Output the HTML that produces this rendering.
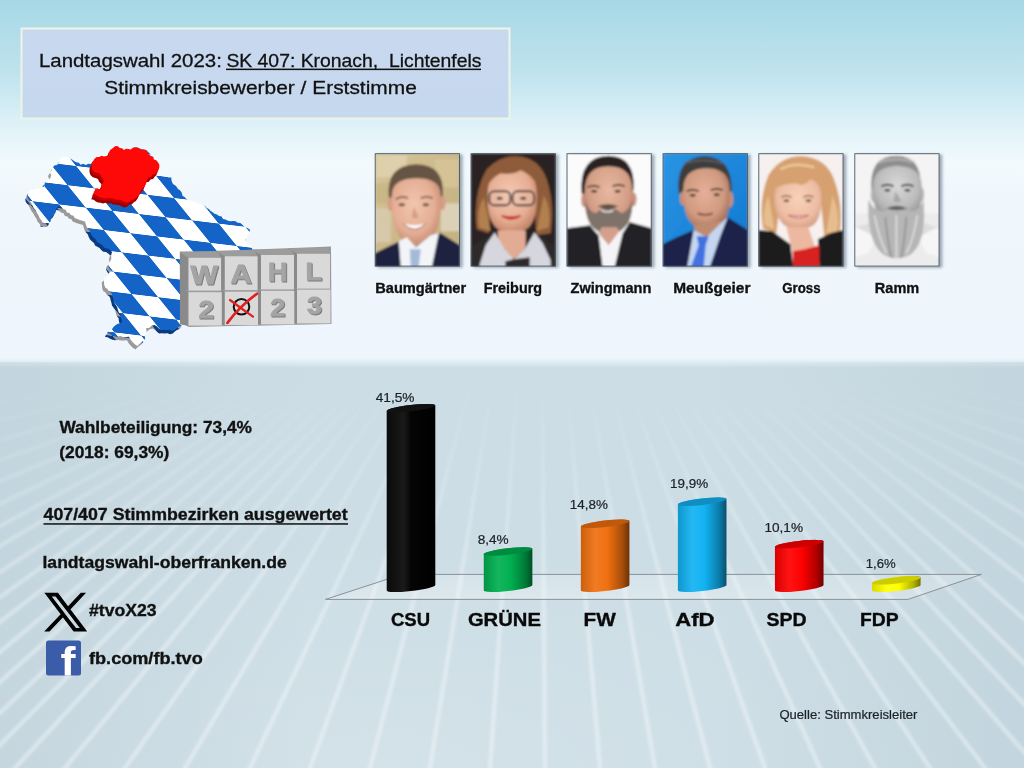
<!DOCTYPE html>
<html><head><meta charset="utf-8"><title>Landtagswahl 2023 SK 407</title>
<style>html,body{margin:0;padding:0;background:#cddde5;}svg{display:block;}text{font-family:"Liberation Sans",Arial,sans-serif;white-space:pre;}</style></head>
<body>
<svg width="1024" height="768" viewBox="0 0 1024 768">
<defs>
<linearGradient id="sky" x1="0" y1="0" x2="0" y2="1">
<stop offset="0" stop-color="#a6d8e6"/><stop offset="0.2" stop-color="#bfe3ee"/><stop offset="0.36" stop-color="#e2f3f9"/><stop offset="0.45" stop-color="#f2fafd"/><stop offset="0.6" stop-color="#eff6fc"/><stop offset="1" stop-color="#eef5fc"/>
</linearGradient>
<linearGradient id="hz" x1="0" y1="0" x2="0" y2="1"><stop offset="0" stop-color="#eef6fc"/><stop offset="1" stop-color="#ccdde5"/></linearGradient>
<radialGradient id="glow" cx="0.38" cy="1.0" r="0.6"><stop offset="0" stop-color="#ffffff" stop-opacity="0.15"/><stop offset="1" stop-color="#ffffff" stop-opacity="0"/></radialGradient>
<linearGradient id="edge" x1="0" x2="1" y1="0" y2="0"><stop offset="0" stop-color="#a8bcc8" stop-opacity="0.25"/><stop offset="0.3" stop-color="#a8bcc8" stop-opacity="0"/><stop offset="0.7" stop-color="#a8bcc8" stop-opacity="0"/><stop offset="1" stop-color="#a8bcc8" stop-opacity="0.25"/></linearGradient>
<linearGradient id="lfade" x1="0" y1="0" x2="0" y2="1"><stop offset="0" stop-color="#fff" stop-opacity="0"/><stop offset="0.09" stop-color="#fff" stop-opacity="0.1"/><stop offset="0.29" stop-color="#fff" stop-opacity="0.45"/><stop offset="0.49" stop-color="#fff" stop-opacity="0.8"/><stop offset="0.7" stop-color="#fff" stop-opacity="1"/></linearGradient>
<mask id="lmask"><rect x="0" y="362" width="1024" height="406" fill="url(#lfade)"/></mask>
<filter id="lblur" x="-5%" y="-5%" width="110%" height="110%"><feGaussianBlur stdDeviation="1.7"/></filter>
<linearGradient id="floorfill" x1="0" y1="0" x2="0" y2="1"><stop offset="0" stop-color="#ffffff" stop-opacity="0.18"/><stop offset="1" stop-color="#ffffff" stop-opacity="0.28"/></linearGradient>
<linearGradient id="title" x1="0" y1="0" x2="0" y2="1"><stop offset="0" stop-color="#c8d9ef"/><stop offset="1" stop-color="#c6d8ee"/></linearGradient>
<linearGradient id="bg0" x1="0" x2="1" y1="0" y2="0"><stop offset="0" stop-color="#0a0a0a"/><stop offset="0.35" stop-color="#1a1a1a"/><stop offset="0.5" stop-color="#050505"/><stop offset="1" stop-color="#000"/></linearGradient>
<linearGradient id="bg1" x1="0" x2="1" y1="0" y2="0"><stop offset="0" stop-color="#009544"/><stop offset="0.3" stop-color="#14b65e"/><stop offset="0.55" stop-color="#00b050"/><stop offset="0.85" stop-color="#007b38"/><stop offset="1" stop-color="#004f24"/></linearGradient>
<linearGradient id="bg2" x1="0" x2="1" y1="0" y2="0"><stop offset="0" stop-color="#cc5f0d"/><stop offset="0.3" stop-color="#f17b23"/><stop offset="0.55" stop-color="#f07010"/><stop offset="0.85" stop-color="#a84e0b"/><stop offset="1" stop-color="#6c3207"/></linearGradient>
<linearGradient id="bg3" x1="0" x2="1" y1="0" y2="0"><stop offset="0" stop-color="#0f97cd"/><stop offset="0.3" stop-color="#24b8f3"/><stop offset="0.55" stop-color="#12b2f2"/><stop offset="0.85" stop-color="#0c7ca9"/><stop offset="1" stop-color="#08506c"/></linearGradient>
<linearGradient id="bg4" x1="0" x2="1" y1="0" y2="0"><stop offset="0" stop-color="#d80000"/><stop offset="0.3" stop-color="#ff1414"/><stop offset="0.55" stop-color="#ff0000"/><stop offset="0.85" stop-color="#b20000"/><stop offset="1" stop-color="#720000"/></linearGradient>
<linearGradient id="bg5" x1="0" x2="1" y1="0" y2="0"><stop offset="0" stop-color="#d8d800"/><stop offset="0.3" stop-color="#ffff14"/><stop offset="0.55" stop-color="#ffff00"/><stop offset="0.85" stop-color="#b2b200"/><stop offset="1" stop-color="#727200"/></linearGradient>
<pattern id="loz" patternUnits="userSpaceOnUse" width="2" height="2" patternTransform="matrix(26.6 3.2 18.1 22.4 138.9 214)"><rect width="2" height="2" fill="#ffffff"/><rect width="1" height="1" fill="#1464c8"/><rect x="1" y="1" width="1" height="1" fill="#1464c8"/></pattern>
<pattern id="lozd" patternUnits="userSpaceOnUse" width="2" height="2" patternTransform="matrix(26.6 3.2 18.1 22.4 136.9 217.5)"><rect width="2" height="2" fill="#9a9a9a"/><rect width="1" height="1" fill="#0a3a80"/><rect x="1" y="1" width="1" height="1" fill="#0a3a80"/></pattern>
<clipPath id="pc"><rect x="0" y="0" width="85.1" height="113.2"/></clipPath>
<filter id="soft" x="-5%" y="-5%" width="110%" height="110%"><feGaussianBlur stdDeviation="0.8"/></filter>
<filter id="psh" x="-10%" y="-10%" width="130%" height="130%"><feGaussianBlur stdDeviation="1.5"/></filter>
<radialGradient id="sk1" cx="0.45" cy="0.4" r="0.6"><stop offset="0" stop-color="#f2c6ae"/><stop offset="0.7" stop-color="#e4ae94"/><stop offset="1" stop-color="#c88e74"/></radialGradient>
<radialGradient id="sk2" cx="0.45" cy="0.4" r="0.6"><stop offset="0" stop-color="#f4c8b0"/><stop offset="0.7" stop-color="#e6ae94"/><stop offset="1" stop-color="#c88a70"/></radialGradient>
<radialGradient id="sk3" cx="0.5" cy="0.35" r="0.6"><stop offset="0" stop-color="#e8b8a0"/><stop offset="0.7" stop-color="#d49e86"/><stop offset="1" stop-color="#b07a64"/></radialGradient>
<radialGradient id="sk4" cx="0.45" cy="0.4" r="0.6"><stop offset="0" stop-color="#e6b098"/><stop offset="0.7" stop-color="#d09a80"/><stop offset="1" stop-color="#a87460"/></radialGradient>
<radialGradient id="sk5" cx="0.5" cy="0.4" r="0.6"><stop offset="0" stop-color="#f8d2b8"/><stop offset="0.7" stop-color="#eebea4"/><stop offset="1" stop-color="#d6a088"/></radialGradient>
<radialGradient id="sk6" cx="0.5" cy="0.35" r="0.6"><stop offset="0" stop-color="#d8d8d8"/><stop offset="0.7" stop-color="#bcbcbc"/><stop offset="1" stop-color="#9a9a9a"/></radialGradient>
<linearGradient id="stone" x1="0" y1="0" x2="1" y2="1"><stop offset="0" stop-color="#d6c69a"/><stop offset="0.5" stop-color="#cbb889"/><stop offset="1" stop-color="#c2b07e"/></linearGradient>
<linearGradient id="blu4" x1="0" y1="0" x2="1" y2="1"><stop offset="0" stop-color="#2a94e4"/><stop offset="1" stop-color="#1178d0"/></linearGradient>
</defs>
<rect width="1024" height="364" fill="url(#sky)"/>
<rect y="358" width="1024" height="10" fill="url(#hz)"/>
<rect y="368" width="1024" height="400" fill="#ccdde5"/>
<rect y="362" width="1024" height="406" fill="url(#glow)"/>
<rect y="362" width="1024" height="406" fill="url(#edge)"/>
<g mask="url(#lmask)"><g stroke="#f4f9fc" stroke-width="4.2" opacity="0.48" filter="url(#lblur)">
<line x1="380.0" y1="362" x2="-550.7" y2="1300"/>
<line x1="368.5" y1="362" x2="-616.3" y2="1300"/>
<line x1="357.4" y1="362" x2="-690.2" y2="1300"/>
<line x1="346.6" y1="362" x2="-774.5" y2="1300"/>
<line x1="335.8" y1="362" x2="-875.7" y2="1300"/>
<line x1="326.9" y1="362" x2="-977.8" y2="1300"/>
<line x1="317.9" y1="362" x2="-1102.0" y2="1300"/>
<line x1="308.5" y1="362" x2="-1264.3" y2="1300"/>
<line x1="301.4" y1="362" x2="-1422.2" y2="1300"/>
<line x1="293.5" y1="362" x2="-1645.0" y2="1300"/>
<line x1="285.2" y1="362" x2="-1962.8" y2="1300"/>
<line x1="277.7" y1="362" x2="-2379.9" y2="1300"/>
<line x1="270.5" y1="362" x2="-2982.1" y2="1300"/>
<line x1="263.3" y1="362" x2="-3994.7" y2="1300"/>
<line x1="256.8" y1="362" x2="-5765.7" y2="1300"/>
<line x1="389.1" y1="362" x2="-475.2" y2="1300"/>
<line x1="399.1" y1="362" x2="-372.8" y2="1300"/>
<line x1="411.8" y1="362" x2="-250.8" y2="1300"/>
<line x1="425.4" y1="362" x2="-130.0" y2="1300"/>
<line x1="441.4" y1="362" x2="-0.8" y2="1300"/>
<line x1="457.7" y1="362" x2="116.5" y2="1300"/>
<line x1="475.7" y1="362" x2="231.4" y2="1300"/>
<line x1="495.9" y1="362" x2="343.6" y2="1300"/>
<line x1="518.7" y1="362" x2="452.4" y2="1300"/>
<line x1="542.2" y1="362" x2="548.6" y2="1300"/>
<line x1="565.3" y1="362" x2="645.5" y2="1300"/>
<line x1="585.8" y1="362" x2="745.6" y2="1300"/>
<line x1="604.3" y1="362" x2="848.6" y2="1300"/>
<line x1="620.9" y1="362" x2="953.9" y2="1300"/>
<line x1="636.0" y1="362" x2="1061.1" y2="1300"/>
<line x1="649.9" y1="362" x2="1170.0" y2="1300"/>
<line x1="662.7" y1="362" x2="1280.3" y2="1300"/>
<line x1="674.7" y1="362" x2="1391.6" y2="1300"/>
<line x1="685.0" y1="362" x2="1500.3" y2="1300"/>
<line x1="702.6" y1="362" x2="1584.2" y2="1300"/>
<line x1="717.6" y1="362" x2="1672.5" y2="1300"/>
<line x1="733.7" y1="362" x2="1793.3" y2="1300"/>
<line x1="747.9" y1="362" x2="1935.8" y2="1300"/>
<line x1="760.7" y1="362" x2="2110.2" y2="1300"/>
<line x1="771.7" y1="362" x2="2318.4" y2="1300"/>
<line x1="781.6" y1="362" x2="2586.2" y2="1300"/>
<line x1="790.4" y1="362" x2="2938.9" y2="1300"/>
<line x1="798.4" y1="362" x2="3443.4" y2="1300"/>
<line x1="805.7" y1="362" x2="4218.0" y2="1300"/>
<line x1="812.3" y1="362" x2="5539.9" y2="1300"/>
</g></g>
<rect x="21.5" y="28.5" width="488" height="90" fill="url(#title)" stroke="#eef4e6" stroke-width="2"/>
<polygon points="59.7,161.1 62.6,160.3 65.5,160.5 67.6,161.9 70.0,162.9 72.0,164.5 74.1,165.8 76.8,166.2 78.6,168.2 81.1,167.2 83.8,168.5 86.4,167.2 89.0,167.5 90.6,164.9 93.6,163.4 94.8,160.5 97.7,160.2 100.8,160.6 103.6,159.7 106.6,159.5 107.7,156.6 108.3,153.5 110.5,151.0 113.4,149.5 116.1,151.1 118.8,152.8 121.9,153.5 124.6,153.1 127.4,153.0 130.1,152.4 132.6,150.8 135.4,151.1 138.1,152.3 141.0,152.9 143.9,153.5 145.9,155.3 147.9,157.0 149.0,159.5 150.8,162.0 153.5,163.5 155.7,165.5 156.2,168.1 157.4,170.5 155.4,172.5 154.3,175.0 153.2,177.5 155.7,178.8 158.6,178.4 161.1,179.7 164.0,179.6 166.5,181.0 169.3,180.8 169.5,184.3 171.0,187.5 174.0,189.5 176.0,192.5 178.2,194.1 179.8,196.3 180.5,199.2 182.9,200.7 184.5,202.8 186.7,203.9 189.3,204.1 191.5,205.3 193.9,206.0 196.2,206.7 198.4,208.0 200.7,208.8 203.1,209.5 204.7,211.5 206.9,212.6 208.6,214.4 210.7,215.7 212.5,217.3 215.0,218.0 217.0,219.5 219.6,220.0 221.0,222.4 223.5,223.1 225.9,224.3 228.4,224.7 231.1,224.5 233.6,224.8 235.7,226.3 238.4,226.6 240.4,228.2 242.6,230.4 245.4,231.6 248.0,233.2 247.2,235.8 246.1,238.6 245.1,241.3 243.0,243.5 244.5,245.9 246.3,248.0 248.9,249.3 250.2,252.3 250.0,255.5 249.5,257.9 250.2,260.3 250.6,262.7 250.4,265.1 249.5,267.5 249.3,269.9 250.8,272.3 249.8,274.7 250.8,277.1 249.6,279.5 250.3,281.9 249.3,284.3 249.1,286.7 250.0,289.1 249.1,291.5 250.3,293.9 250.8,296.3 249.8,298.7 250.8,301.1 250.0,303.5 247.8,304.7 245.4,305.0 243.0,305.4 240.9,306.9 238.7,307.7 235.9,307.0 233.9,308.6 231.3,308.2 229.0,309.0 227.0,310.6 224.6,311.2 222.3,311.7 219.9,312.2 217.6,313.0 215.3,313.7 213.0,314.3 210.5,314.5 208.4,315.9 206.1,316.7 203.7,316.9 201.6,318.4 199.3,319.0 196.6,318.5 194.5,320.0 192.2,320.7 190.2,322.3 187.7,322.3 185.3,322.7 183.0,323.5 181.2,326.7 179.6,329.1 176.9,329.9 174.8,331.6 172.8,333.5 170.1,334.3 167.4,333.3 164.6,333.6 161.9,333.2 159.2,333.5 156.8,332.0 155.0,329.9 152.5,328.5 149.5,329.2 147.1,331.5 144.0,331.8 144.6,334.4 143.3,336.9 142.6,339.4 143.2,342.0 141.6,344.2 139.4,345.8 137.3,347.5 135.5,349.5 132.8,347.7 130.5,345.4 128.5,343.0 127.0,340.3 124.0,340.6 121.1,340.5 118.2,340.1 115.2,340.3 112.5,339.8 110.0,338.8 107.7,337.3 105.0,336.9 106.1,334.6 108.5,333.6 110.5,332.1 111.9,330.1 113.8,328.6 115.8,327.2 118.5,326.8 120.3,325.1 119.0,321.8 118.6,318.3 116.8,316.0 115.9,313.3 115.1,310.5 113.5,308.1 112.0,305.8 111.5,303.1 110.7,300.6 110.2,298.0 108.9,295.9 106.7,294.7 105.6,292.4 103.4,291.2 102.2,288.4 102.0,285.5 101.7,282.5 103.8,280.6 106.0,278.9 107.3,276.3 109.3,274.3 107.2,272.0 106.0,269.2 106.5,266.7 108.2,264.8 109.3,262.5 109.1,258.9 110.0,255.5 108.2,253.6 106.1,252.1 103.3,251.7 101.2,250.1 99.6,247.9 97.3,246.7 95.0,245.5 94.0,243.0 91.8,241.3 90.0,239.4 88.7,237.0 87.9,234.4 86.0,232.5 84.6,230.2 83.7,227.6 83.0,225.0 80.4,224.3 77.8,223.4 75.2,222.5 72.7,221.5 71.5,219.3 68.8,218.6 67.5,216.5 64.9,215.9 63.6,213.2 61.0,212.5 59.0,210.6 56.4,209.9 54.3,212.1 53.9,215.2 52.5,217.7 50.4,219.6 48.9,221.9 48.6,224.9 46.7,226.9 43.8,226.5 40.8,226.9 39.7,223.9 37.5,221.5 36.5,218.8 34.9,216.4 33.6,213.8 31.7,211.4 30.3,208.7 29.0,206.0 27.3,204.1 25.8,202.1 25.2,199.5 26.3,197.0 27.0,194.3 29.3,193.3 31.9,193.5 34.0,191.6 36.8,192.4 39.1,191.4 41.4,190.4 42.8,188.0 42.7,185.2 46.0,183.8 48.6,181.3 49.0,178.6 48.0,176.1 49.4,173.9 50.6,171.5 52.2,169.1 55.1,168.4 57.0,166.3 57.8,163.4" fill="url(#lozd)"/>
<polygon points="61.7,157.6 64.6,156.8 67.5,157.0 69.6,158.4 72.0,159.4 74.0,161.0 76.1,162.3 78.8,162.7 80.6,164.7 83.1,163.7 85.8,165.0 88.4,163.7 91.0,164.0 92.6,161.4 95.6,159.9 96.8,157.0 99.7,156.7 102.8,157.1 105.6,156.2 108.6,156.0 109.7,153.1 110.3,150.0 112.5,147.5 115.4,146.0 118.1,147.6 120.8,149.3 123.9,150.0 126.6,149.6 129.4,149.5 132.1,148.9 134.6,147.3 137.4,147.6 140.1,148.8 143.0,149.4 145.9,150.0 147.9,151.8 149.9,153.5 151.0,156.0 152.8,158.5 155.5,160.0 157.7,162.0 158.2,164.6 159.4,167.0 157.4,169.0 156.3,171.5 155.2,174.0 157.7,175.3 160.6,174.9 163.1,176.2 166.0,176.1 168.5,177.5 171.3,177.3 171.5,180.8 173.0,184.0 176.0,186.0 178.0,189.0 180.2,190.6 181.8,192.8 182.5,195.7 184.9,197.2 186.5,199.3 188.7,200.4 191.3,200.6 193.5,201.8 195.9,202.5 198.2,203.2 200.4,204.5 202.7,205.3 205.1,206.0 206.7,208.0 208.9,209.1 210.6,210.9 212.7,212.2 214.5,213.8 217.0,214.5 219.0,216.0 221.6,216.5 223.0,218.9 225.5,219.6 227.9,220.8 230.4,221.2 233.1,221.0 235.6,221.3 237.7,222.8 240.4,223.1 242.4,224.7 244.6,226.9 247.4,228.1 250.0,229.7 249.2,232.3 248.1,235.1 247.1,237.8 245.0,240.0 246.5,242.4 248.3,244.5 250.9,245.8 252.2,248.8 252.0,252.0 251.5,254.4 252.2,256.8 252.6,259.2 252.4,261.6 251.5,264.0 251.3,266.4 252.8,268.8 251.8,271.2 252.8,273.6 251.6,276.0 252.3,278.4 251.3,280.8 251.1,283.2 252.0,285.6 251.1,288.0 252.3,290.4 252.8,292.8 251.8,295.2 252.8,297.6 252.0,300.0 249.8,301.2 247.4,301.5 245.0,301.9 242.9,303.4 240.7,304.2 237.9,303.5 235.9,305.1 233.3,304.7 231.0,305.5 229.0,307.1 226.6,307.7 224.3,308.2 221.9,308.7 219.6,309.5 217.3,310.2 215.0,310.8 212.5,311.0 210.4,312.4 208.1,313.2 205.7,313.4 203.6,314.9 201.3,315.5 198.6,315.0 196.5,316.5 194.2,317.2 192.2,318.8 189.7,318.8 187.3,319.2 185.0,320.0 183.2,323.2 181.6,325.6 178.9,326.4 176.8,328.1 174.8,330.0 172.1,330.8 169.4,329.8 166.6,330.1 163.9,329.7 161.2,330.0 158.8,328.5 157.0,326.4 154.5,325.0 151.5,325.7 149.1,328.0 146.0,328.3 146.6,330.9 145.3,333.4 144.6,335.9 145.2,338.5 143.6,340.7 141.4,342.3 139.3,344.0 137.5,346.0 134.8,344.2 132.5,341.9 130.5,339.5 129.0,336.8 126.0,337.1 123.1,337.0 120.2,336.6 117.2,336.8 114.5,336.3 112.0,335.3 109.7,333.8 107.0,333.4 108.1,331.1 110.5,330.1 112.5,328.6 113.9,326.6 115.8,325.1 117.8,323.7 120.5,323.3 122.3,321.6 121.0,318.3 120.6,314.8 118.8,312.5 117.9,309.8 117.1,307.0 115.5,304.6 114.0,302.3 113.5,299.6 112.7,297.1 112.2,294.5 110.9,292.4 108.7,291.2 107.6,288.9 105.4,287.7 104.2,284.9 104.0,282.0 103.7,279.0 105.8,277.1 108.0,275.4 109.3,272.8 111.3,270.8 109.2,268.5 108.0,265.7 108.5,263.2 110.2,261.3 111.3,259.0 111.1,255.4 112.0,252.0 110.2,250.1 108.1,248.6 105.3,248.2 103.2,246.6 101.6,244.4 99.3,243.2 97.0,242.0 96.0,239.5 93.8,237.8 92.0,235.9 90.7,233.5 89.9,230.9 88.0,229.0 86.6,226.7 85.7,224.1 85.0,221.5 82.4,220.8 79.8,219.9 77.2,219.0 74.7,218.0 73.5,215.8 70.8,215.1 69.5,213.0 66.9,212.4 65.6,209.7 63.0,209.0 61.0,207.1 58.4,206.4 56.3,208.6 55.9,211.7 54.5,214.2 52.4,216.1 50.9,218.4 50.6,221.4 48.7,223.4 45.8,223.0 42.8,223.4 41.7,220.4 39.5,218.0 38.5,215.3 36.9,212.9 35.6,210.3 33.7,207.9 32.3,205.2 31.0,202.5 29.3,200.6 27.8,198.6 27.2,196.0 28.3,193.5 29.0,190.8 31.3,189.8 33.9,190.0 36.0,188.1 38.8,188.9 41.1,187.9 43.4,186.9 44.8,184.5 44.7,181.7 48.0,180.3 50.6,177.8 51.0,175.1 50.0,172.6 51.4,170.4 52.6,168.0 54.2,165.6 57.1,164.9 59.0,162.8 59.8,159.9" fill="url(#loz)"/>
<polygon points="89.5,168.7 90.9,166.3 92.3,163.8 94.6,162.0 97.0,162.1 99.2,160.7 101.7,161.5 104.0,160.9 106.4,161.0 106.4,157.8 108.1,155.0 110.7,153.0 113.2,151.0 115.7,151.2 117.5,152.9 119.9,153.2 121.7,155.0 123.8,153.8 126.2,154.1 128.6,154.4 130.6,152.7 132.9,152.5 135.2,152.6 137.3,153.4 139.2,154.7 141.5,154.5 143.7,155.0 145.6,156.9 146.4,159.6 148.8,161.0 151.1,161.8 151.7,164.5 154.1,165.2 155.5,167.0 157.0,169.3 157.2,172.0 156.5,174.7 154.7,176.8 153.0,178.9 150.5,179.5 148.8,181.7 146.2,182.3 145.2,184.5 144.3,186.7 143.7,189.0 142.2,191.4 140.2,193.5 138.6,195.8 137.6,198.6 135.9,200.9 133.5,202.6 131.7,204.4 129.1,204.8 127.3,206.5 125.1,207.6 122.7,207.1 120.6,205.7 118.3,205.0 115.7,204.7 113.1,204.6 110.7,203.2 108.1,203.4 105.6,202.8 103.0,203.5 100.5,202.7 98.0,202.6 95.8,201.4 93.8,199.7 91.2,199.2 92.4,196.7 92.8,194.0 95.1,193.3 97.5,194.5 99.7,193.3 99.3,190.8 100.3,188.6 101.4,186.4 101.3,184.0 99.1,181.8 98.0,178.9 95.4,178.1 92.8,177.2 90.4,175.1 89.5,172.0" fill="#9a0000"/>
<polygon points="90.6,166.2 92.0,163.8 93.4,161.3 95.7,159.5 98.1,159.6 100.3,158.2 102.8,159.0 105.1,158.4 107.5,158.5 107.5,155.3 109.2,152.5 111.8,150.5 114.3,148.5 116.8,148.7 118.6,150.4 121.0,150.7 122.8,152.5 124.9,151.3 127.3,151.6 129.7,151.9 131.7,150.2 134.0,150.0 136.3,150.1 138.4,150.9 140.3,152.2 142.6,152.0 144.8,152.5 146.7,154.4 147.5,157.1 149.9,158.5 152.2,159.3 152.8,162.0 155.2,162.7 156.6,164.5 158.1,166.8 158.3,169.5 157.6,172.2 155.8,174.3 154.1,176.4 151.6,177.0 149.9,179.2 147.3,179.8 146.3,182.0 145.4,184.2 144.8,186.5 143.3,188.9 141.3,191.0 139.7,193.3 138.7,196.1 137.0,198.4 134.6,200.1 132.8,201.9 130.2,202.3 128.4,204.0 126.2,205.1 123.8,204.6 121.7,203.2 119.4,202.5 116.8,202.2 114.2,202.1 111.8,200.7 109.2,200.9 106.7,200.3 104.1,201.0 101.6,200.2 99.1,200.1 96.9,198.9 94.9,197.2 92.3,196.7 93.5,194.2 93.9,191.5 96.2,190.8 98.6,192.0 100.8,190.8 100.4,188.3 101.4,186.1 102.5,183.9 102.4,181.5 100.2,179.3 99.1,176.4 96.5,175.6 93.9,174.7 91.5,172.6 90.6,169.5" fill="#c00000"/>
<polygon points="91.7,163.7 93.1,161.3 94.5,158.8 96.8,157.0 99.2,157.1 101.4,155.7 103.9,156.5 106.2,155.9 108.6,156.0 108.6,152.8 110.3,150.0 112.9,148.0 115.4,146.0 117.9,146.2 119.7,147.9 122.1,148.2 123.9,150.0 126.0,148.8 128.4,149.1 130.8,149.4 132.8,147.7 135.1,147.5 137.4,147.6 139.5,148.4 141.4,149.7 143.7,149.5 145.9,150.0 147.8,151.9 148.6,154.6 151.0,156.0 153.3,156.8 153.9,159.5 156.3,160.2 157.7,162.0 159.2,164.3 159.4,167.0 158.7,169.7 156.9,171.8 155.2,173.9 152.7,174.5 151.0,176.7 148.4,177.3 147.4,179.5 146.5,181.7 145.9,184.0 144.4,186.4 142.4,188.5 140.8,190.8 139.8,193.6 138.1,195.9 135.7,197.6 133.9,199.4 131.3,199.8 129.5,201.5 127.3,202.6 124.9,202.1 122.8,200.7 120.5,200.0 117.9,199.7 115.3,199.6 112.9,198.2 110.3,198.4 107.8,197.8 105.2,198.5 102.7,197.7 100.2,197.6 98.0,196.4 96.0,194.7 93.4,194.2 94.6,191.7 95.0,189.0 97.3,188.3 99.7,189.5 101.9,188.3 101.5,185.8 102.5,183.6 103.6,181.4 103.5,179.0 101.3,176.8 100.2,173.9 97.6,173.1 95.0,172.2 92.6,170.1 91.7,167.0" fill="#ff0808"/>
<polygon points="179.8,251.5 216,251 331,246.5 331.5,324 189,327 180,323" fill="#9a9a9a"/>
<polygon points="297.0,289.6 288.5,284.1 288.5,322.3 297.0,323.4" fill="#8a8a8a"/>
<polygon points="297.0,289.6 330.5,289.6 327.5,284.1 288.5,284.1" fill="#9c9c9c"/>
<rect x="297" y="289.6" width="33.5" height="33.8" fill="#d9d9d9"/>
<polygon points="261.0,290.8 252.5,285.3 252.5,323.3 261.0,324.4" fill="#8a8a8a"/>
<polygon points="261.0,290.8 294.3,290.8 291.3,285.3 252.5,285.3" fill="#9c9c9c"/>
<rect x="261" y="290.8" width="33.3" height="33.6" fill="#d9d9d9"/>
<polygon points="224.8,291.7 216.3,286.2 216.3,323.9 224.8,325.0" fill="#8a8a8a"/>
<polygon points="224.8,291.7 258.0,291.7 255.0,286.2 216.3,286.2" fill="#9c9c9c"/>
<rect x="224.8" y="291.7" width="33.2" height="33.3" fill="#d9d9d9"/>
<polygon points="188.5,292.2 180.0,286.7 180.0,324.5 188.5,325.6" fill="#8a8a8a"/>
<polygon points="188.5,292.2 221.8,292.2 218.8,286.7 180.0,286.7" fill="#9c9c9c"/>
<rect x="188.5" y="292.2" width="33.3" height="33.4" fill="#d9d9d9"/>
<polygon points="297.0,253.8 288.5,248.3 288.5,287.5 297.0,288.6" fill="#8a8a8a"/>
<polygon points="297.0,253.8 330.0,253.8 327.0,248.3 288.5,248.3" fill="#9c9c9c"/>
<rect x="297" y="253.8" width="33.0" height="34.8" fill="#d9d9d9"/>
<polygon points="261.0,255.0 252.5,249.5 252.5,288.3 261.0,289.4" fill="#8a8a8a"/>
<polygon points="261.0,255.0 294.0,255.0 291.0,249.5 252.5,249.5" fill="#9c9c9c"/>
<rect x="261" y="255" width="33.0" height="34.4" fill="#d9d9d9"/>
<polygon points="224.8,256.3 216.3,250.8 216.3,289.0 224.8,290.1" fill="#8a8a8a"/>
<polygon points="224.8,256.3 257.6,256.3 254.6,250.8 216.3,250.8" fill="#9c9c9c"/>
<rect x="224.8" y="256.3" width="32.8" height="33.8" fill="#d9d9d9"/>
<polygon points="188.5,257.8 180.0,252.3 180.0,289.5 188.5,290.6" fill="#8a8a8a"/>
<polygon points="188.5,257.8 221.1,257.8 218.1,252.3 180.0,252.3" fill="#9c9c9c"/>
<rect x="188.5" y="257.8" width="32.6" height="32.8" fill="#d9d9d9"/>
<text x="191.5" y="284.6" font-size="25.1" font-weight="bold" fill="#7a7a7a" textLength="27.4" lengthAdjust="spacingAndGlyphs" stroke="#7a7a7a" stroke-width="0.8">W</text>
<text x="190.6" y="283.8" font-size="25.1" font-weight="bold" fill="#a4a4a4" textLength="27.4" lengthAdjust="spacingAndGlyphs" stroke="#a4a4a4" stroke-width="0.8">W</text>
<text x="231.4" y="283.9" font-size="25.1" font-weight="bold" fill="#7a7a7a" textLength="21.1" lengthAdjust="spacingAndGlyphs" stroke="#7a7a7a" stroke-width="0.8">A</text>
<text x="230.5" y="283.0" font-size="25.1" font-weight="bold" fill="#a4a4a4" textLength="21.1" lengthAdjust="spacingAndGlyphs" stroke="#a4a4a4" stroke-width="0.8">A</text>
<text x="268.9" y="282.3" font-size="25.1" font-weight="bold" fill="#7a7a7a" textLength="19.5" lengthAdjust="spacingAndGlyphs" stroke="#7a7a7a" stroke-width="0.8">H</text>
<text x="268.0" y="281.4" font-size="25.1" font-weight="bold" fill="#a4a4a4" textLength="19.5" lengthAdjust="spacingAndGlyphs" stroke="#a4a4a4" stroke-width="0.8">H</text>
<text x="306.4" y="280.7" font-size="23.9" font-weight="bold" fill="#7a7a7a" textLength="16.4" lengthAdjust="spacingAndGlyphs" stroke="#7a7a7a" stroke-width="0.8">L</text>
<text x="305.5" y="279.8" font-size="23.9" font-weight="bold" fill="#a4a4a4" textLength="16.4" lengthAdjust="spacingAndGlyphs" stroke="#a4a4a4" stroke-width="0.8">L</text>
<text x="199.3" y="318.9" font-size="23.7" font-weight="bold" fill="#7a7a7a" textLength="15.6" lengthAdjust="spacingAndGlyphs" stroke="#7a7a7a" stroke-width="0.8">2</text>
<text x="198.4" y="318.0" font-size="23.7" font-weight="bold" fill="#a4a4a4" textLength="15.6" lengthAdjust="spacingAndGlyphs" stroke="#a4a4a4" stroke-width="0.8">2</text>
<text x="271.2" y="316.7" font-size="24.0" font-weight="bold" fill="#7a7a7a" textLength="14.9" lengthAdjust="spacingAndGlyphs" stroke="#7a7a7a" stroke-width="0.8">2</text>
<text x="270.3" y="315.8" font-size="24.0" font-weight="bold" fill="#a4a4a4" textLength="14.9" lengthAdjust="spacingAndGlyphs" stroke="#a4a4a4" stroke-width="0.8">2</text>
<text x="307.9" y="315.1" font-size="24.0" font-weight="bold" fill="#7a7a7a" textLength="14.9" lengthAdjust="spacingAndGlyphs" stroke="#7a7a7a" stroke-width="0.8">3</text>
<text x="307.0" y="314.2" font-size="24.0" font-weight="bold" fill="#a4a4a4" textLength="14.9" lengthAdjust="spacingAndGlyphs" stroke="#a4a4a4" stroke-width="0.8">3</text>
<circle cx="241.5" cy="306.8" r="7.8" fill="none" stroke="#111" stroke-width="2"/>
<path d="M227.4,322.9 Q240,306 257,293.7" stroke="#e02020" stroke-width="2.6" fill="none" stroke-linecap="round"/>
<path d="M230,300 Q242,309 253,316.7" stroke="#e02020" stroke-width="2.2" fill="none" stroke-linecap="round"/>
<rect x="377.6" y="154.5" width="85.1" height="113.2" fill="#34465a" opacity="0.45" filter="url(#psh)"/>
<g transform="translate(374.8,153.3)"><g clip-path="url(#pc)"><g filter="url(#soft)"><rect width="85" height="114" fill="url(#stone)"/>
<rect x="2" y="2" width="30" height="22" fill="#e2d6b4" opacity="0.7"/><rect x="60" y="6" width="24" height="28" fill="#d8c89a" opacity="0.7"/><rect x="66" y="50" width="19" height="28" fill="#e0d8c4" opacity="0.8"/><rect x="0" y="55" width="16" height="34" fill="#d8ccb0" opacity="0.8"/><rect x="0" y="30" width="14" height="20" fill="#c4b080" opacity="0.6"/>
<path d="M14,44 Q11,12 41,11 Q70,11 68,42 L66,46 Q63,27 42,26 Q21,26 17,48 Z" fill="#665444"/>
<ellipse cx="16" cy="51" rx="3.2" ry="7" fill="#d89c84"/><ellipse cx="67.5" cy="50" rx="3.2" ry="7" fill="#d89c84"/>
<path d="M17,42 Q17,25 42,25 Q66,25 66,42 Q67,72 57,85 Q50,92 41.5,92 Q33,92 26,85 Q16,72 17,42 Z" fill="url(#sk1)"/>
<path d="M21,46 Q27,42 33,45" stroke="#6a4a3a" stroke-width="1.6" fill="none"/><path d="M46,45 Q52,42 58,45" stroke="#6a4a3a" stroke-width="1.6" fill="none"/>
<ellipse cx="27" cy="51.5" rx="3.2" ry="1.4" fill="#5a3a30"/><ellipse cx="51" cy="51.5" rx="3.2" ry="1.4" fill="#5a3a30"/>
<path d="M39,53 L37,64 Q40,66 44,64 Z" fill="#c88a70" opacity="0.6"/>
<path d="M28,70 Q40,82 51,70 Q40,74 28,70 Z" fill="#ffffff"/><path d="M28,70 Q40,82 51,70" stroke="#a05a50" stroke-width="1" fill="none"/>
<path d="M0,100 L12,94 L25,88 L40,94 L55,84 L66,80 L85,92 L85,114 L0,114 Z" fill="#1c2440"/>
<path d="M24,88 L32,84 L41,94 L56,82 L64,80 L57,114 L26,114 Z" fill="#f2f4f8"/>
<path d="M35,96 L46,96 L45,104 L44,114 L36,114 Z" fill="#a4bad8"/></g></g><rect x="0.4" y="0.4" width="84.3" height="112.4" fill="none" stroke="#4a5868" stroke-width="0.9"/></g>
<rect x="473.5" y="154.5" width="85.1" height="113.2" fill="#34465a" opacity="0.45" filter="url(#psh)"/>
<g transform="translate(470.7,153.3)"><g clip-path="url(#pc)"><g filter="url(#soft)"><rect width="85" height="114" fill="#2a2424"/>
<path d="M6,76 Q2,40 16,16 Q30,2 46,3 Q68,4 76,26 Q84,50 80,80 L66,82 L62,40 L22,40 L18,80 Z" fill="#8e5c3a"/>
<path d="M8,74 Q6,56 13,44 L20,78 Z" fill="#b2804f"/><path d="M78,74 Q81,56 73,42 L66,78 Z" fill="#b2804f"/>
<path d="M17,40 Q17,15 42,15 Q66,15 66,40 Q67,66 57,75 Q50,79 42,79 Q33,79 26,75 Q16,66 17,40 Z" fill="url(#sk2)"/>
<path d="M17,32 Q24,10 46,12 Q62,14 68,34 Q60,20 50,17 Q42,22 30,20 Q22,24 17,32 Z" fill="#8e5c3a"/>
<rect x="18.6" y="38" width="21" height="14" rx="5" fill="#f0d8cc" fill-opacity="0.15" stroke="#4a4040" stroke-width="1.9"/><rect x="42" y="38" width="21.5" height="14" rx="5" fill="#f0d8cc" fill-opacity="0.15" stroke="#4a4040" stroke-width="1.9"/>
<ellipse cx="29" cy="45" rx="3" ry="1.5" fill="#504040"/><ellipse cx="52.5" cy="45" rx="3" ry="1.5" fill="#504040"/>
<path d="M31,62.5 Q40.5,69 50,62.5 Q40.5,65 31,62.5 Z" fill="#c8302e" stroke="#c8302e" stroke-width="1.4"/>
<path d="M27,77 L55,77 L55,96 L42,106 L28,96 Z" fill="#e2ac94"/>
<path d="M0,94 L12,86 L24,80 L34,100 L30,114 L0,114 Z" fill="#2e2a2c"/><path d="M85,94 L74,86 L62,80 L52,100 L56,114 L85,114 Z" fill="#2e2a2c"/>
<path d="M9,111 L15,92 L24,79 L34,96 L42.8,106 L36,114 L9,114 Z" fill="#d6d6de"/><path d="M80,107 L72,90 L63.8,79 L54,96 L42.8,106 L50,114 L80,114 Z" fill="#d6d6de"/>
<path d="M34.7,108 L42.8,106 L59,104 L59,114 L34.7,114 Z" fill="#302a2c"/></g></g><rect x="0.4" y="0.4" width="84.3" height="112.4" fill="none" stroke="#4a5868" stroke-width="0.9"/></g>
<rect x="569.4" y="154.5" width="85.1" height="113.2" fill="#34465a" opacity="0.45" filter="url(#psh)"/>
<g transform="translate(566.6,153.3)"><g clip-path="url(#pc)"><g filter="url(#soft)"><rect width="85" height="114" fill="#fbfbfb"/>
<path d="M15,40 Q12,3 42,2.4 Q69,3 67,36 L65,42 Q63,18 42,15 Q21,16 18,44 Z" fill="#2a2422"/>
<ellipse cx="17.5" cy="47" rx="3" ry="7" fill="#c89480"/><ellipse cx="67" cy="46" rx="3" ry="7" fill="#c89480"/>
<path d="M18,38 Q18,13 42,13 Q66,13 66,38 Q67,64 59,74 Q51,81 42,81 Q33,81 26,74 Q17,64 18,38 Z" fill="url(#sk3)"/>
<path d="M18.5,46 Q19,68 28,76 Q42,86 56,76 Q66,68 66,46 Q63,58 55,60 Q49,54 42,55 Q35,54 29,60 Q21,58 18.5,46 Z" fill="#7e726a"/>
<path d="M31,53 Q41,49 51.7,53 Q41,58 31,53 Z" fill="#5a4c44"/><path d="M34.7,57 Q41,60 46.8,57" stroke="#f4f0ee" stroke-width="1.3" fill="none"/>
<path d="M21,34 Q27,31 33,34" stroke="#3a2e28" stroke-width="1.8" fill="none"/><path d="M46,33 Q52,30 58,33" stroke="#3a2e28" stroke-width="1.8" fill="none"/>
<ellipse cx="27.5" cy="38" rx="3" ry="1.3" fill="#3a2a24"/><ellipse cx="51" cy="38" rx="3" ry="1.3" fill="#3a2a24"/>
<path d="M0,75 L23.4,72 L32,82 L40,114 L0,114 Z" fill="#222226"/><path d="M85,75 L63,68.7 L56,80 L48,114 L85,114 Z" fill="#222226"/>
<path d="M23.4,72 L34,80 L42,92 L54,78 L63,68.7 L56,80 L47,114 L36,114 L32,82 Z" fill="#f4f4f6"/>
<path d="M32,80 L42,92 L53,78 L50,74 L35,74 Z" fill="#d4a08c"/></g></g><rect x="0.4" y="0.4" width="84.3" height="112.4" fill="none" stroke="#4a5868" stroke-width="0.9"/></g>
<rect x="665.5" y="154.5" width="85.1" height="113.2" fill="#34465a" opacity="0.45" filter="url(#psh)"/>
<g transform="translate(662.7,153.3)"><g clip-path="url(#pc)"><g filter="url(#soft)"><rect width="85" height="114" fill="url(#blu4)"/>
<path d="M16,40 Q12,4 42,3 Q70,4 69,38 L67,42 Q64,16 44,15 Q24,15 20,40 Z" fill="#3e3c3c"/>
<path d="M22,10 Q40,4 60,10" stroke="#5a5a5a" stroke-width="2" fill="none"/>
<ellipse cx="20" cy="45" rx="3" ry="7" fill="#c88e74"/><ellipse cx="67.5" cy="46" rx="3" ry="8" fill="#c88e74"/>
<path d="M20.5,36 Q20.5,15 44,15 Q67,15 67,36 Q68,62 60,70 Q52,76 44,76 Q35,76 29,70 Q20,62 20.5,36 Z" fill="url(#sk4)"/>
<path d="M24,38 Q30,35 36,38" stroke="#3a2a24" stroke-width="1.8" fill="none"/><path d="M48,37 Q54,34 60,37" stroke="#3a2a24" stroke-width="1.8" fill="none"/>
<ellipse cx="30" cy="42" rx="3" ry="1.3" fill="#3a2420"/><ellipse cx="54" cy="41.5" rx="3" ry="1.3" fill="#3a2420"/>
<path d="M35,60 Q42,63 50,60" stroke="#7a4a3a" stroke-width="1.8" fill="none"/>
<path d="M31,72 L58,68 L60,80 L34,86 Z" fill="#c08a70"/>
<path d="M0,91 L14,84 L31,76.7 L40,114 L0,114 Z" fill="#1e2448"/><path d="M85,76.7 L65,64 L58,80 L46,114 L85,114 Z" fill="#1e2448"/>
<path d="M31,76.7 L44,84 L58,70 L65,64 L58,82 L47,114 L24.5,114 Z" fill="#c4d6f0"/>
<path d="M34,83 L46,83 L43,92 L41,114 L28,114 L36,92 Z" fill="#4272e0"/></g></g><rect x="0.4" y="0.4" width="84.3" height="112.4" fill="none" stroke="#4a5868" stroke-width="0.9"/></g>
<rect x="761.1999999999999" y="154.5" width="85.1" height="113.2" fill="#34465a" opacity="0.45" filter="url(#psh)"/>
<g transform="translate(758.4,153.3)"><g clip-path="url(#pc)"><g filter="url(#soft)"><rect width="85" height="114" fill="#f6f0ee"/>
<path d="M4.5,75 Q0,46 10,22 Q22,3 42,3 Q64,3 74,22 Q86,50 81,82 L66,84 L62,44 L22,44 L18,80 Z" fill="#d6a070"/>
<path d="M6,72 Q4,56 10,42 L16,76 Z" fill="#e6be8e"/><path d="M79,78 Q82,60 74,42 L68,80 Z" fill="#e6be8e"/>
<path d="M16,42 Q16,24 40,24 Q63,24 63,42 Q64,64 55,72 Q48,76 40,76 Q32,76 26,72 Q16,64 16,42 Z" fill="url(#sk5)"/>
<path d="M12.6,36 Q16,6 42,6 Q66,8 68,36 Q60,28 52,26 Q46,34 38,30 Q26,30 12.6,36 Z" fill="#d6a070"/>
<path d="M22,16 Q36,8 56,14" stroke="#ecc898" stroke-width="2.5" fill="none"/>
<path d="M23,44 Q28,41 33,44" stroke="#8a6048" stroke-width="1.4" fill="none"/><path d="M45,44 Q50,41 55,44" stroke="#8a6048" stroke-width="1.4" fill="none"/>
<ellipse cx="28" cy="47.5" rx="2.8" ry="1.3" fill="#5a3e34"/><ellipse cx="50" cy="47.5" rx="2.8" ry="1.3" fill="#5a3e34"/>
<path d="M30,62 Q40,68 50,62 Q40,64 30,62 Z" fill="#ffffff" stroke="#c05050" stroke-width="1"/>
<path d="M28,74 L50,74 L58,98 L34,98 Z" fill="#ecb8a0"/>
<path d="M0,76.7 L14,78 L32,91 L35,114 L0,114 Z" fill="#1c1a1c"/><path d="M85,76.7 L72,80 L59.5,86 L61,114 L85,114 Z" fill="#1c1a1c"/>
<path d="M34.4,98 L46,96 L61,92 L61,114 L34.4,114 Z" fill="#d82424"/></g></g><rect x="0.4" y="0.4" width="84.3" height="112.4" fill="none" stroke="#4a5868" stroke-width="0.9"/></g>
<rect x="857.1999999999999" y="154.5" width="85.1" height="113.2" fill="#34465a" opacity="0.45" filter="url(#psh)"/>
<g transform="translate(854.4,153.3)"><g clip-path="url(#pc)"><g filter="url(#soft)"><rect width="85" height="114" fill="#ececec"/>
<rect x="0" y="0" width="85" height="60" fill="#f4f4f4"/>
<path d="M17,38 Q14,2.4 42,2.4 Q68,3 66,34 L64,40 Q62,14 43,13 Q24,13 21,40 Z" fill="#8e8e8e"/>
<path d="M24,9 Q42,3 60,9" stroke="#b4b4b4" stroke-width="2" fill="none"/>
<ellipse cx="19" cy="42" rx="2.8" ry="7" fill="#b8b8b8"/><ellipse cx="67" cy="41" rx="2.8" ry="7" fill="#b8b8b8"/>
<path d="M18.3,34 Q18.3,13 43,13 Q67.5,13 67.5,34 Q68,54 62,62 Q54,68 43,68 Q32,68 25,62 Q18,54 18.3,34 Z" fill="url(#sk6)"/>
<path d="M27,33 Q33,30 39,33" stroke="#3c3c3c" stroke-width="2" fill="none"/><path d="M47,33 Q53,30 59,33" stroke="#3c3c3c" stroke-width="2" fill="none"/>
<ellipse cx="33" cy="37" rx="3" ry="1.3" fill="#303030"/><ellipse cx="53" cy="37" rx="3" ry="1.3" fill="#303030"/>
<path d="M41,38 L39,48 Q43,50 47,48 Z" fill="#a8a8a8"/>
<path d="M0,76 L14,70 L22,84 L14,100 L0,104 Z" fill="#f6f6f6"/><path d="M85,76 L70,70 L64,84 L72,100 L85,104 Z" fill="#f6f6f6"/>
<path d="M2,74 L14,70 L22,84 Z" fill="#dedede"/><path d="M83,74 L70,70 L64,84 Z" fill="#dedede"/>
<path d="M14,46 Q12,90 30,102 Q42,108 55,102 Q73,90 69,46 Q66,58 56,58 Q50,55 42,56 Q35,55 29,58 Q19,58 14,46 Z" fill="#b6b6b6"/>
<path d="M20,62 Q25,86 32,100" stroke="#e0e0e0" stroke-width="1.6" fill="none"/><path d="M31,64 Q33,88 37,104" stroke="#8a8a8a" stroke-width="1.4" fill="none"/><path d="M42,62 L42,106" stroke="#e2e2e2" stroke-width="1.6" fill="none"/><path d="M52,64 Q50,88 47,104" stroke="#8a8a8a" stroke-width="1.4" fill="none"/><path d="M63,62 Q59,86 52,100" stroke="#e0e0e0" stroke-width="1.6" fill="none"/>
<path d="M32,55 Q42,50 53,55 Q42,59 32,55 Z" fill="#606060"/></g></g><rect x="0.4" y="0.4" width="84.3" height="112.4" fill="none" stroke="#4a5868" stroke-width="0.9"/></g>
<polygon points="325.5,599.4 908,599.4 981.4,574.4 402,574.4" fill="url(#floorfill)" stroke="#8a9298" stroke-width="1"/>
<path d="M386.70,410.91 L386.70,590.60 A24.458,3.219 -6.571 0 0 435.30,585.10 L435.30,405.41 A24.458,3.219 -6.571 0 0 386.70,410.91 Z" fill="url(#bg0)"/>
<ellipse cx="411.00" cy="408.16" rx="24.458" ry="3.219" transform="rotate(-6.571 411.00 408.16)" fill="#111"/>
<path d="M483.76,554.23 L483.76,590.60 A24.458,3.219 -6.571 0 0 532.36,585.10 L532.36,548.73 A24.458,3.219 -6.571 0 0 483.76,554.23 Z" fill="url(#bg1)"/>
<ellipse cx="508.06" cy="551.48" rx="24.458" ry="3.219" transform="rotate(-6.571 508.06 551.48)" fill="#008c40"/>
<path d="M580.82,526.52 L580.82,590.60 A24.458,3.219 -6.571 0 0 629.42,585.10 L629.42,521.02 A24.458,3.219 -6.571 0 0 580.82,526.52 Z" fill="url(#bg2)"/>
<ellipse cx="605.12" cy="523.77" rx="24.458" ry="3.219" transform="rotate(-6.571 605.12 523.77)" fill="#c0590c"/>
<path d="M677.88,504.43 L677.88,590.60 A24.458,3.219 -6.571 0 0 726.48,585.10 L726.48,498.93 A24.458,3.219 -6.571 0 0 677.88,504.43 Z" fill="url(#bg3)"/>
<ellipse cx="702.18" cy="501.68" rx="24.458" ry="3.219" transform="rotate(-6.571 702.18 501.68)" fill="#0e8ec1"/>
<path d="M774.94,546.87 L774.94,590.60 A24.458,3.219 -6.571 0 0 823.54,585.10 L823.54,541.37 A24.458,3.219 -6.571 0 0 774.94,546.87 Z" fill="url(#bg4)"/>
<ellipse cx="799.24" cy="544.12" rx="24.458" ry="3.219" transform="rotate(-6.571 799.24 544.12)" fill="#cc0000"/>
<path d="M872.00,583.10 L872.00,590.60 A24.458,3.219 -6.571 0 0 920.60,585.10 L920.60,577.60 A24.458,3.219 -6.571 0 0 872.00,583.10 Z" fill="url(#bg5)"/>
<ellipse cx="896.30" cy="580.35" rx="24.458" ry="3.219" transform="rotate(-6.571 896.30 580.35)" fill="#cccc00"/>
<rect x="226" y="68.6" width="255" height="1.5" fill="#111"/>
<rect x="43.5" y="523.2" width="304.5" height="1.5" fill="#111"/>
<text x="38.92" y="67.30" font-size="19" fill="#111" stroke="#111" stroke-width="0.3" textLength="182.95" lengthAdjust="spacingAndGlyphs">Landtagswahl 2023:</text>
<text x="226.40" y="67.30" font-size="19" fill="#111" stroke="#111" stroke-width="0.3" textLength="255.11" lengthAdjust="spacingAndGlyphs">SK 407: Kronach,  Lichtenfels</text>
<text x="104.20" y="93.70" font-size="19" fill="#111" stroke="#111" stroke-width="0.3" textLength="312.62" lengthAdjust="spacingAndGlyphs">Stimmkreisbewerber / Erststimme</text>
<text x="375.23" y="293.20" font-size="15" font-weight="bold" fill="#111" stroke="#111" stroke-width="0.35" textLength="90.92" lengthAdjust="spacingAndGlyphs">Baumgärtner</text>
<text x="483.74" y="293.20" font-size="15" font-weight="bold" fill="#111" stroke="#111" stroke-width="0.35" textLength="58.31" lengthAdjust="spacingAndGlyphs">Freiburg</text>
<text x="570.50" y="293.20" font-size="15" font-weight="bold" fill="#111" stroke="#111" stroke-width="0.35" textLength="80.86" lengthAdjust="spacingAndGlyphs">Zwingmann</text>
<text x="673.17" y="293.20" font-size="15" font-weight="bold" fill="#111" stroke="#111" stroke-width="0.35" textLength="77.26" lengthAdjust="spacingAndGlyphs">Meußgeier</text>
<text x="782.30" y="293.20" font-size="15" font-weight="bold" fill="#111" stroke="#111" stroke-width="0.35" textLength="38.30" lengthAdjust="spacingAndGlyphs">Gross</text>
<text x="874.83" y="293.20" font-size="15" font-weight="bold" fill="#111" stroke="#111" stroke-width="0.35" textLength="44.39" lengthAdjust="spacingAndGlyphs">Ramm</text>
<text x="59.40" y="433.20" font-size="17" font-weight="bold" fill="#111" stroke="#111" stroke-width="0.35" textLength="192.62" lengthAdjust="spacingAndGlyphs">Wahlbeteiligung: 73,4%</text>
<text x="59.20" y="457.70" font-size="17" font-weight="bold" fill="#111" stroke="#111" stroke-width="0.35" textLength="110.18" lengthAdjust="spacingAndGlyphs">(2018: 69,3%)</text>
<text x="43.50" y="520.30" font-size="17" font-weight="bold" fill="#111" stroke="#111" stroke-width="0.35" textLength="304.15" lengthAdjust="spacingAndGlyphs">407/407 Stimmbezirken ausgewertet</text>
<text x="42.47" y="568.20" font-size="17" font-weight="bold" fill="#111" stroke="#111" stroke-width="0.35" textLength="244.20" lengthAdjust="spacingAndGlyphs">landtagswahl-oberfranken.de</text>
<text x="89.00" y="616.30" font-size="17" font-weight="bold" fill="#111" stroke="#111" stroke-width="0.35" textLength="67.47" lengthAdjust="spacingAndGlyphs">#tvoX23</text>
<text x="89.00" y="664.10" font-size="17" font-weight="bold" fill="#111" stroke="#111" stroke-width="0.35" textLength="113.71" lengthAdjust="spacingAndGlyphs">fb.com/fb.tvo</text>
<text x="375.70" y="401.70" font-size="13" fill="#1c2228" stroke="#1c2228" stroke-width="0.22" textLength="38.84" lengthAdjust="spacingAndGlyphs">41,5%</text>
<text x="477.70" y="543.50" font-size="13" fill="#1c2228" stroke="#1c2228" stroke-width="0.22" textLength="31.04" lengthAdjust="spacingAndGlyphs">8,4%</text>
<text x="569.80" y="509.20" font-size="13" fill="#1c2228" stroke="#1c2228" stroke-width="0.22" textLength="38.04" lengthAdjust="spacingAndGlyphs">14,8%</text>
<text x="670.00" y="488.10" font-size="13" fill="#1c2228" stroke="#1c2228" stroke-width="0.22" textLength="38.14" lengthAdjust="spacingAndGlyphs">19,9%</text>
<text x="764.40" y="532.20" font-size="13" fill="#1c2228" stroke="#1c2228" stroke-width="0.22" textLength="38.64" lengthAdjust="spacingAndGlyphs">10,1%</text>
<text x="865.80" y="567.80" font-size="13" fill="#1c2228" stroke="#1c2228" stroke-width="0.22" textLength="30.00" lengthAdjust="spacingAndGlyphs">1,6%</text>
<text x="391.00" y="626.40" font-size="19" font-weight="bold" fill="#0a0a0a" stroke="#0a0a0a" stroke-width="0.35" textLength="39.10" lengthAdjust="spacingAndGlyphs">CSU</text>
<text x="467.90" y="626.40" font-size="19" font-weight="bold" fill="#0a0a0a" stroke="#0a0a0a" stroke-width="0.35" textLength="73.02" lengthAdjust="spacingAndGlyphs">GRÜNE</text>
<text x="583.51" y="626.40" font-size="19" font-weight="bold" fill="#0a0a0a" stroke="#0a0a0a" stroke-width="0.35" textLength="32.22" lengthAdjust="spacingAndGlyphs">FW</text>
<text x="675.30" y="626.40" font-size="19" font-weight="bold" fill="#0a0a0a" stroke="#0a0a0a" stroke-width="0.35" textLength="39.24" lengthAdjust="spacingAndGlyphs">AfD</text>
<text x="766.50" y="626.40" font-size="19" font-weight="bold" fill="#0a0a0a" stroke="#0a0a0a" stroke-width="0.35" textLength="40.04" lengthAdjust="spacingAndGlyphs">SPD</text>
<text x="859.98" y="626.40" font-size="19" font-weight="bold" fill="#0a0a0a" stroke="#0a0a0a" stroke-width="0.35" textLength="38.68" lengthAdjust="spacingAndGlyphs">FDP</text>
<text x="779.40" y="718.75" font-size="13" fill="#1c2228" stroke="#1c2228" stroke-width="0.22" textLength="138.03" lengthAdjust="spacingAndGlyphs">Quelle: Stimmkreisleiter</text>
<g transform="translate(45.6,593.4) scale(0.03367,0.03064)"><path d="M714.163 519.284L1160.89 0H1055.03L667.137 450.887L357.328 0H0L468.492 681.821L0 1226.37H105.866L515.491 750.218L842.672 1226.37H1200L714.163 519.284ZM569.165 687.828L521.697 619.934L144.011 79.6944H306.615L611.412 515.685L658.88 583.579L1055.08 1150.3H892.476L569.165 687.828Z" fill="#000" stroke="#000" stroke-width="38" stroke-linejoin="miter"/></g>
<g transform="translate(46,640.4)"><rect width="35" height="35" rx="2.5" fill="#3b5ca8"/><svg x="0" y="0" width="35" height="35" overflow="hidden"><text x="14.5" y="36.5" font-size="41.7" font-weight="bold" fill="#fff" textLength="15" lengthAdjust="spacingAndGlyphs">f</text></svg></g>
</svg>
</body></html>
